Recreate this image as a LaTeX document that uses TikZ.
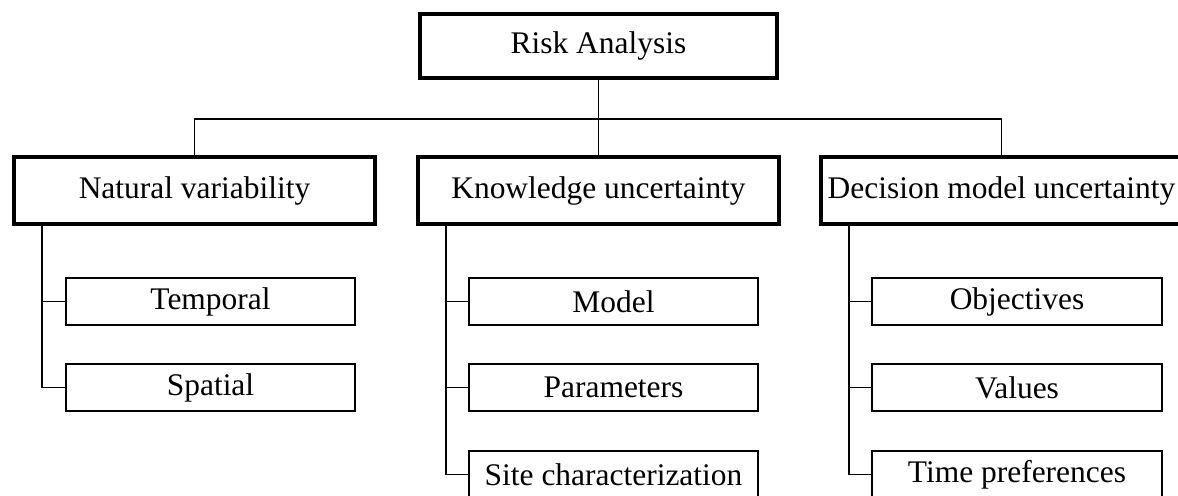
\documentclass[tikz,border=0pt]{standalone}
\usepackage{fontspec}
\setmainfont{Liberation Serif}
\begin{document}
\begin{tikzpicture}[font=\fontsize{17.9}{21}\selectfont]
    % Define styles
    \tikzstyle{rootbox}=[rectangle,draw,line width=2.2pt,minimum width=7.14cm,minimum height=1.28cm,inner sep=0pt]
    \tikzstyle{groupbox}=[rectangle,draw,line width=2.2pt,minimum width=7.22cm,minimum height=1.34cm,inner sep=0pt]
    \tikzstyle{leafbox}=[rectangle,draw,line width=1.4pt,minimum width=5.79cm,minimum height=0.93cm,inner sep=0pt]
    \tikzstyle{link}=[line width=1.1pt]

    % Fix the frame (the picture is cut at the right and at the bottom)
    \clip (0,0) rectangle (23.56,9.9);

    % Draw the nodes
    \node[rootbox] (risk) at (11.97,8.98) {Risk Analysis};

    \node[groupbox] (nat) at (3.89,6.09) {Natural variability};
    \node[groupbox] (know) at (11.97,6.09) {Knowledge uncertainty};
    \node[groupbox] (dec) at (20.03,6.09) {Decision model uncertainty};

    \node[leafbox] (temp) at (4.21,3.87) {Temporal};
    \node[leafbox] (spat) at (4.21,2.15) {Spatial};

    \node[leafbox] (model) at (12.27,3.87) {Model};
    \node[leafbox] (param) at (12.27,2.15) {Parameters};
    \node[leafbox] (site) at (12.27,0.41) {Site characterization};

    \node[leafbox] (obj) at (20.34,3.87) {Objectives};
    \node[leafbox] (val) at (20.34,2.15) {Values};
    \node[leafbox] (time) at (20.34,0.41) {Time preferences};

    % Draw the edges
    \coordinate (bus) at (11.97,7.52);
    \draw[link] (risk.south) -- (know.north);
    \draw[link] (nat.north) |- (bus) -| (dec.north);

    \coordinate (natstem) at ([xshift=0.6cm]nat.south west);
    \draw[link] (natstem) |- (spat.west);
    \draw[link] (natstem |- temp.west) -- (temp.west);

    \coordinate (knowstem) at ([xshift=0.6cm]know.south west);
    \draw[link] (knowstem) |- (site.west);
    \draw[link] (knowstem |- model.west) -- (model.west);
    \draw[link] (knowstem |- param.west) -- (param.west);

    \coordinate (decstem) at ([xshift=0.6cm]dec.south west);
    \draw[link] (decstem) |- (time.west);
    \draw[link] (decstem |- obj.west) -- (obj.west);
    \draw[link] (decstem |- val.west) -- (val.west);
\end{tikzpicture}
\end{document}
